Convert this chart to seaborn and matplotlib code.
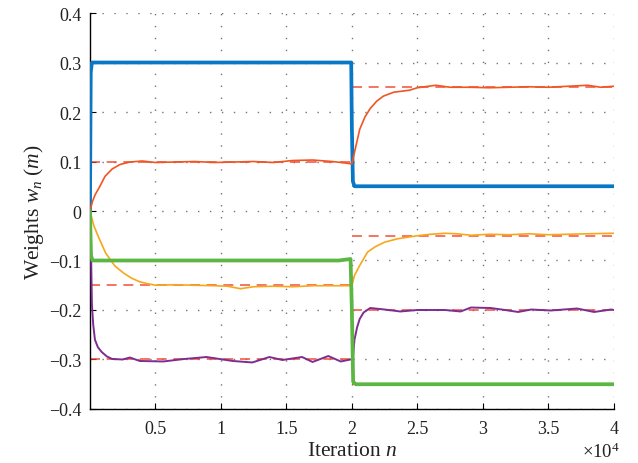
import numpy as np
import pandas as pd
import seaborn as sns
import matplotlib
matplotlib.use("Agg")
import matplotlib.pyplot as plt

# ---- weight trajectories (iteration index, weight value) ----
blue_n = [0, 60, 150, 5000, 10000, 15000, 19950, 20000, 20080, 20200, 25000, 30000, 35000, 40000]
blue_w = [0, 0.28, 0.30, 0.30, 0.30, 0.30, 0.30, 0.17, 0.06, 0.05, 0.05, 0.05, 0.05, 0.05]

orange_n = [0, 200, 400, 760, 1150, 1700, 2300, 3050, 4000, 5000, 6500, 8000, 9500, 11000,
            12500, 14000, 15500, 17000, 18500, 19500, 20000, 20300, 20600, 21000, 21400,
            21900, 22400, 23200, 24400, 25000, 26400, 27500, 29000, 30500, 32000, 33500,
            35000, 36500, 38000, 39000, 40000]
orange_w = [0, 0.02, 0.033, 0.05, 0.07, 0.085, 0.094, 0.099, 0.101, 0.098, 0.099, 0.1, 0.098,
            0.099, 0.1, 0.098, 0.102, 0.103, 0.1, 0.097, 0.095, 0.13, 0.165, 0.19, 0.207,
            0.222, 0.232, 0.24, 0.244, 0.249, 0.254, 0.25, 0.25, 0.249, 0.25, 0.251, 0.25,
            0.252, 0.254, 0.25, 0.252]

yellow_n = [0, 300, 610, 1200, 1900, 2600, 3200, 3800, 4430, 5000, 6500, 8000, 9500, 10500,
            11500, 12500, 14000, 15500, 17000, 18500, 20000, 20200, 20600, 21200, 21800,
            22500, 23500, 25000, 26000, 27100, 28000, 29100, 30500, 32000, 33500, 35000,
            36500, 38000, 40000]
yellow_w = [0, -0.03, -0.05, -0.085, -0.111, -0.126, -0.136, -0.143, -0.147, -0.15, -0.149,
            -0.15, -0.151, -0.152, -0.157, -0.153, -0.152, -0.153, -0.151, -0.151, -0.151,
            -0.13, -0.11, -0.083, -0.072, -0.063, -0.056, -0.05, -0.047, -0.045, -0.046,
            -0.049, -0.047, -0.048, -0.046, -0.048, -0.047, -0.046, -0.045]

purple_n = [0, 80, 150, 250, 380, 600, 900, 1300, 1700, 2500, 3050, 3800, 5600, 7200, 8900,
            10900, 12400, 13700, 14700, 16200, 17000, 18200, 19150, 19900, 20000, 20100,
            20200, 20400, 20600, 20900, 21400, 22500, 23700, 25000, 27100, 28300, 29100,
            30600, 31700, 32700, 33700, 35200, 37200, 38500, 39800, 40000]
purple_w = [0, -0.08, -0.19, -0.23, -0.26, -0.275, -0.285, -0.294, -0.299, -0.3, -0.296,
            -0.303, -0.304, -0.299, -0.295, -0.303, -0.306, -0.295, -0.301, -0.295, -0.305,
            -0.293, -0.304, -0.3, -0.3, -0.29, -0.26, -0.235, -0.218, -0.205, -0.196, -0.199,
            -0.203, -0.2, -0.2, -0.203, -0.195, -0.196, -0.2, -0.204, -0.199, -0.201, -0.197,
            -0.204, -0.199, -0.2]

green_n = [0, 80, 200, 5000, 10000, 15000, 19000, 19900, 20000, 20100, 20300, 25000, 30000,
           35000, 40000]
green_w = [0, -0.09, -0.10, -0.10, -0.10, -0.10, -0.10, -0.097, -0.2, -0.345, -0.35, -0.35,
           -0.35, -0.35, -0.35]

# optimal weights before / after the change at n = 20000
target_first = [0.30, 0.10, -0.15, -0.30, -0.10]
target_second = [0.05, 0.25, -0.05, -0.20, -0.35]
switch_n = 20000
end_n = 40000

x_ticks = [5000, 10000, 15000, 20000, 25000, 30000, 35000, 40000]
x_tick_labels = ["0.5", "1", "1.5", "2", "2.5", "3", "3.5", "4"]
y_ticks = [-0.4, -0.3, -0.2, -0.1, 0, 0.1, 0.2, 0.3, 0.4]
y_tick_labels = ["\u22120.4", "\u22120.3", "\u22120.2", "\u22120.1", "0", "0.1", "0.2", "0.3", "0.4"]

series = [
    ("w1", blue_n, blue_w, "#0878c6", 2.7),
    ("w2", orange_n, orange_w, "#f05522", 1.2),
    ("w3", yellow_n, yellow_w, "#f7a71c", 1.2),
    ("w4", purple_n, purple_w, "#7d2d90", 1.4),
    ("w5", green_n, green_w, "#5bb642", 2.7),
]

sns.set_theme(style="white")
plt.rcParams["font.family"] = ["Liberation Serif", "DejaVu Serif"]
plt.rcParams["mathtext.fontset"] = "custom"
plt.rcParams["mathtext.rm"] = "Liberation Serif"
plt.rcParams["mathtext.it"] = "Liberation Serif:italic"

fig = plt.figure(figsize=(6.38, 4.64), dpi=100)
ax = fig.add_axes([0.141, 0.1164, 0.821, 0.8534])

# dashed reference lines for the optimal weights
dash_color = "#f2402a"
ref_rows = []
for k, (a, b) in enumerate(zip(target_first, target_second)):
    ref_rows.append(dict(n=0, w=a, seg=f"a{k}"))
    ref_rows.append(dict(n=switch_n, w=a, seg=f"a{k}"))
    ref_rows.append(dict(n=switch_n, w=b, seg=f"b{k}"))
    ref_rows.append(dict(n=end_n, w=b, seg=f"b{k}"))
ref_df = pd.DataFrame(ref_rows)
for seg, grp in ref_df.groupby("seg"):
    sns.lineplot(data=grp, x="n", y="w", ax=ax, color=dash_color, lw=1.2,
                 linestyle=(0, (6, 4)), alpha=0.85, estimator=None, sort=False)

# adaptive weight trajectories
for name, n_vals, w_vals, col, lw in series:
    df = pd.DataFrame({"n": n_vals, "w": w_vals})
    sns.lineplot(data=df, x="n", y="w", ax=ax, color=col, lw=lw,
                 estimator=None, sort=False, zorder=3)

ax.set_xlim(0, end_n)
ax.set_ylim(-0.4, 0.4)
ax.set_xticks(x_ticks)
ax.set_xticklabels(x_tick_labels)
ax.set_yticks(y_ticks)
ax.set_yticklabels(y_tick_labels)

ax.grid(True, linestyle=(0, (1, 7.6)), color="#666666", linewidth=1.0, alpha=0.9)
for side in ["top", "right"]:
    ax.spines[side].set_visible(False)
for side in ["left", "bottom"]:
    ax.spines[side].set_color("black")
    ax.spines[side].set_linewidth(1.0)

ax.tick_params(axis="both", direction="in", length=4, width=0.8, colors="black",
               labelsize=13, pad=6, left=True, bottom=True)
ax.tick_params(axis="x", pad=8)
for lab in ax.get_xticklabels() + ax.get_yticklabels():
    lab.set_color("#222222")
ax.set_xlabel("Iteration $n$", fontsize=15.5, labelpad=3, color="#222222")
ax.set_ylabel("Weights $w_n\\ (m)$", fontsize=15.5, labelpad=2, color="#222222")
ax.text(1.0115, -0.121, "\u00d710$^4$", transform=ax.transAxes, ha="right", va="baseline",
        fontsize=13.5, color="#222222")

fig.savefig("out.png", dpi=100)
